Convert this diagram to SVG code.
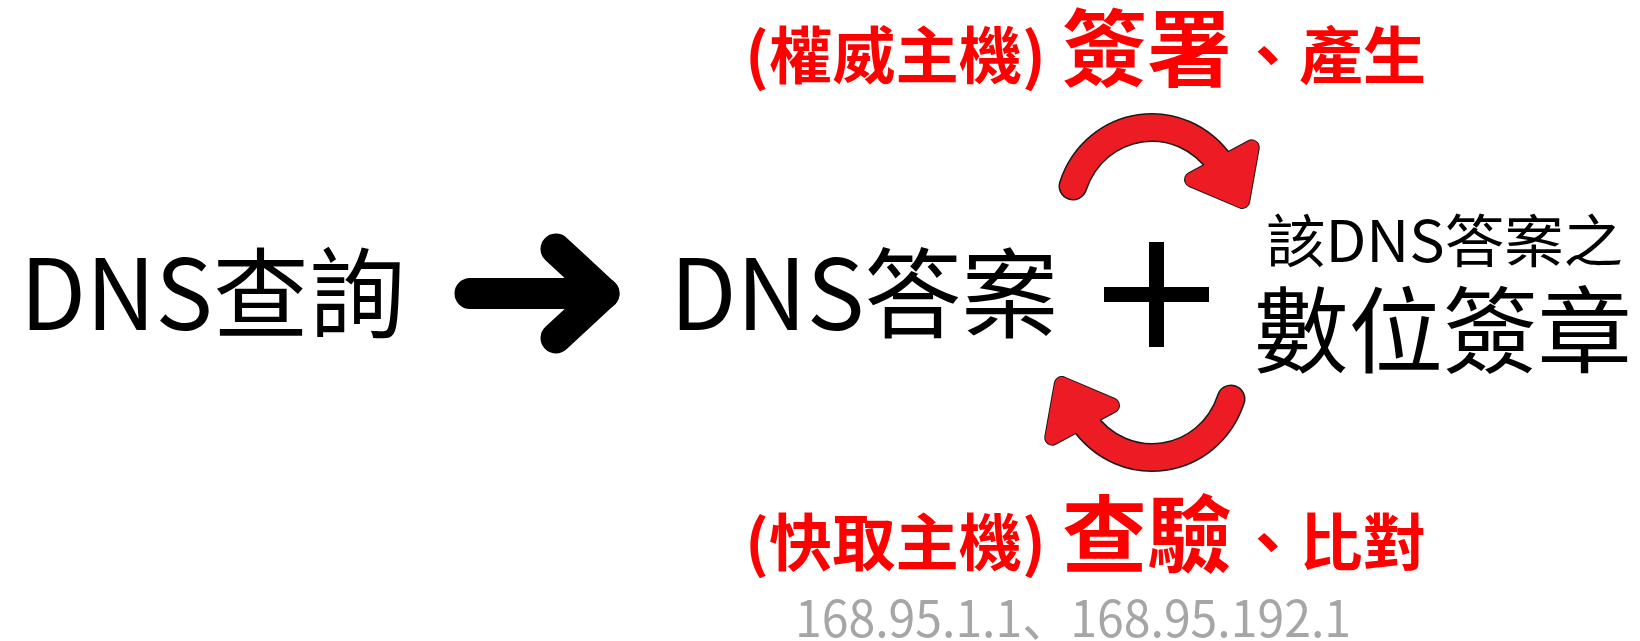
<svg xmlns="http://www.w3.org/2000/svg" xmlns:xlink="http://www.w3.org/1999/xlink" width="1640" height="641" viewBox="0 0 1640 641">
<style>
.blk{font-family:"Noto Sans CJK TC","Noto Sans",sans-serif;fill:#000;font-weight:400}
.red{font-family:"Noto Sans CJK TC","Noto Sans",sans-serif;fill:#FF0000;font-weight:700}
.gray{font-family:"Noto Sans CJK JP","Noto Sans",sans-serif;fill:#A6A6A6;font-weight:400}
.band-o{fill:none;stroke:#1a1a1a;stroke-width:29;stroke-linecap:round}
.band{fill:none;stroke:#ED1C24;stroke-width:26;stroke-linecap:round}
.head-o{fill:#1a1a1a;stroke:#1a1a1a;stroke-width:16;stroke-linejoin:round}
.head{fill:#ED1C24;stroke:#ED1C24;stroke-width:14;stroke-linejoin:round}
.barrow{fill:none;stroke:#000;stroke-width:31;stroke-linecap:round;stroke-linejoin:round}
</style>
<defs>
<g id="redArrow">
<path class="band-o" d="M1073 186 C1095 120 1180 105 1222 166"/>
<polygon class="head-o" points="1192,179.6 1251.8,147.3 1242.2,201"/>
<path class="band" d="M1073 186 C1095 120 1180 105 1222 166"/>
<polygon class="head" points="1192,179.6 1251.8,147.3 1242.2,201"/>
</g>
</defs>
<rect width="1640" height="641" fill="#fff"/>
<g id="node-query">
<text class="blk" x="20" y="330" font-size="98" textLength="385" lengthAdjust="spacingAndGlyphs">DNS查詢</text>
</g>
<g id="node-answer">
<text class="blk" x="670" y="330" font-size="98" textLength="388" lengthAdjust="spacingAndGlyphs">DNS答案</text>
</g>
<g id="node-plus">
<rect x="1104" y="287" width="105" height="15" fill="#000"/>
<rect x="1149" y="242" width="15" height="105" fill="#000"/>
</g>
<g id="node-signature">
<text class="blk" x="1266" y="262" font-size="57" textLength="357" lengthAdjust="spacingAndGlyphs">該DNS答案之</text>
<text class="blk" x="1254" y="366" font-size="94" textLength="378" lengthAdjust="spacingAndGlyphs">數位簽章</text>
</g>
<g id="label-top">
<text class="red" x="745" y="79" font-size="62" textLength="301" lengthAdjust="spacingAndGlyphs">(權威主機)</text>
<text class="red" x="1062" y="80" font-size="84" textLength="170" lengthAdjust="spacingAndGlyphs">簽署</text>
<text class="red" x="1236" y="79" font-size="62" textLength="190" lengthAdjust="spacingAndGlyphs">、產生</text>
</g>
<g id="label-bottom">
<text class="red" x="745" y="566" font-size="62" textLength="301" lengthAdjust="spacingAndGlyphs">(快取主機)</text>
<text class="red" x="1062" y="566" font-size="84" textLength="170" lengthAdjust="spacingAndGlyphs">查驗</text>
<text class="red" x="1236" y="566" font-size="62" textLength="190" lengthAdjust="spacingAndGlyphs">、比對</text>
<text class="gray" x="795" y="637" font-size="51" textLength="556" lengthAdjust="spacingAndGlyphs">168.95.1.1、168.95.192.1</text>
</g>
<g id="connectors">
<path class="barrow" d="M470 293.5 H604"/>
<path class="barrow" d="M556 249 L604 293.5 L556 338"/>
<use xlink:href="#redArrow"/>
<use xlink:href="#redArrow" transform="rotate(180 1152 292.5)"/>
</g>
</svg>
